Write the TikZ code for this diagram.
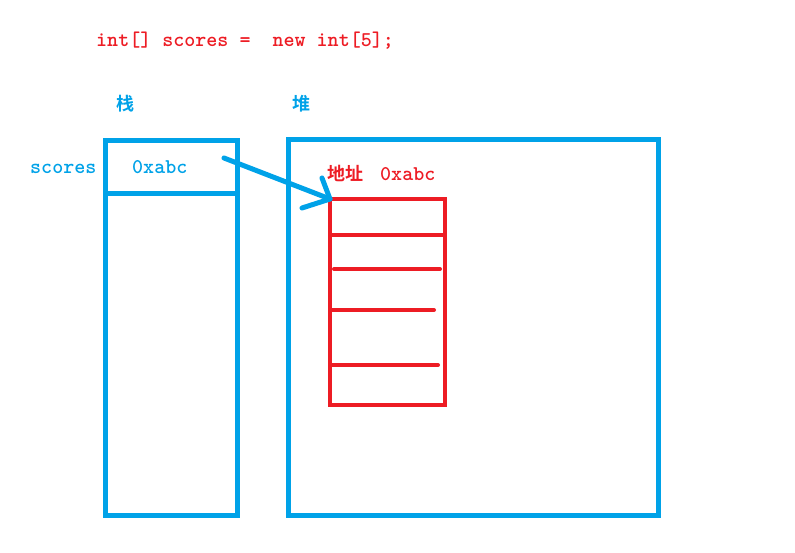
\documentclass[tikz,border=0pt]{standalone}
\usepackage{fontspec}
\newfontfamily\cjk{Noto Sans CJK SC}[BoldFont={Noto Sans CJK SC Bold}]
\definecolor{pblue}{RGB}{0,162,232}
\definecolor{pred}{RGB}{237,28,36}
\begin{document}
\begin{tikzpicture}[x=1pt,y=-1pt,
  bluebox/.style={draw=pblue,line width=5pt,outer sep=0pt},
  redbox/.style={draw=pred,line width=4pt,outer sep=0pt},
  redline/.style={draw=pred,line width=4pt,line cap=round},
  code/.style={font=\ttfamily\bfseries\fontsize{21}{23}\selectfont,inner sep=0pt,anchor=base west},
  cjklabel/.style={font=\cjk\bfseries\fontsize{18}{20}\selectfont,inner sep=0pt},
  ptr/.style={draw=pblue,line width=5pt,line cap=round,line join=round}]
\useasboundingbox (0,0) rectangle (795,552);
% code line
\node[code,text=pred] (codeline) at (96,46) {int[] scores =\ \ new int[5];};
% section titles
\node[cjklabel,text=pblue,anchor=center] (stacklbl) at (125.5,103.5) {栈};
\node[cjklabel,text=pblue,anchor=center] (heaplbl) at (301.5,103.5) {堆};
% stack
\node[bluebox,minimum width=132.5pt,minimum height=375pt,inner sep=0pt,anchor=north west] (stack) at (105,140) {};
\draw[bluebox] (105,193.5) -- (237.5,193.5);
\node[code,text=pblue] (varname) at (30,173) {scores};
\node[code,text=pblue] (addr) at (132,173) {0xabc};
% heap
\node[bluebox,minimum width=370pt,minimum height=376pt,inner sep=0pt,anchor=north west] (heap) at (288.5,139) {};
% array
\node[redbox,minimum width=115pt,minimum height=206pt,inner sep=0pt,anchor=north west] (arr) at (330,199) {};
\draw[redbox] (330,234.5) -- (445,234.5);
\draw[redline] (334,269) -- (440,269);
\draw[redline] (331,310) -- (434,310);
\draw[redline] (331,365) -- (438,365);
\node[cjklabel,text=pred,anchor=base west] (addrcn) at (327,180) {地址};
\node[code,text=pred] (addrred) at (380,180) {0xabc};
% pointer arrow
\coordinate (ptrstart) at (224,158);
\coordinate (tip) at (arr.north west);
\coordinate (head1) at (322,178);
\coordinate (head2) at (302,208);
\draw[ptr] (ptrstart) -- (tip);
\draw[ptr] (head1) -- (tip) -- (head2);
\end{tikzpicture}
\end{document}
